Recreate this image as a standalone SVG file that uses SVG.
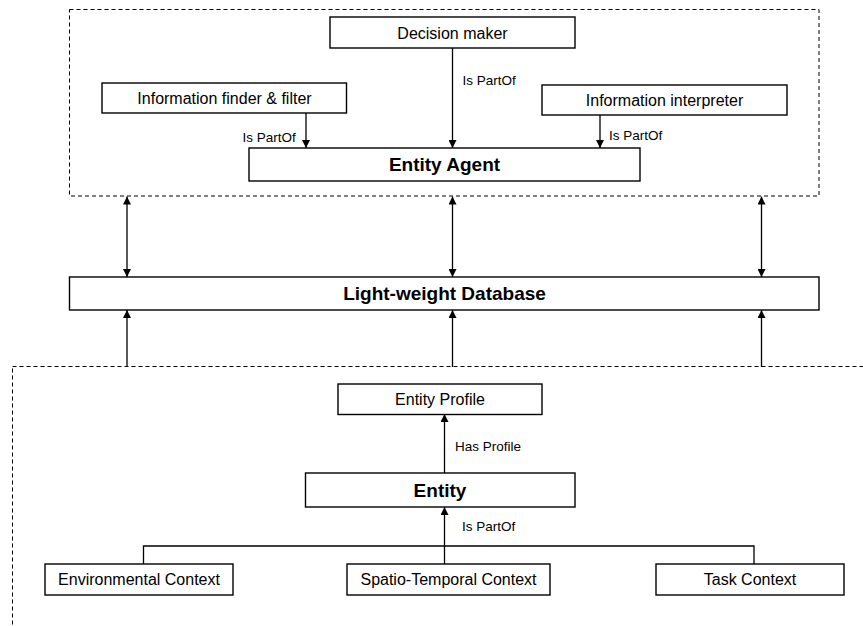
<svg xmlns="http://www.w3.org/2000/svg" width="863" height="626" viewBox="0 0 863 626">
<defs>
<style>
.box{fill:#fff;stroke:#000;stroke-width:1.4}
.dash{fill:none;stroke:#000;stroke-width:1;stroke-dasharray:4 3}
.ln{fill:none;stroke:#000;stroke-width:1.3}
.t{font-family:"Liberation Sans",Arial,sans-serif;font-size:16px;text-anchor:middle;fill:#000}
.b{font-family:"Liberation Sans",Arial,sans-serif;font-size:19px;font-weight:bold;text-anchor:middle;fill:#000}
.l{font-family:"Liberation Sans",Arial,sans-serif;font-size:13.5px;fill:#000}
</style>
<marker id="ah" viewBox="0 0 10 10" refX="10" refY="5" markerWidth="8" markerHeight="8" markerUnits="userSpaceOnUse" orient="auto-start-reverse">
<path d="M0,0 L10,5 L0,10 z" fill="#000"/>
</marker>
</defs>
<rect width="863" height="626" fill="#fff"/>
<g id="agent-container"><rect class="dash" x="69.5" y="9.5" width="749.5" height="186.5"/></g>
<g id="entity-container"><rect class="dash" x="12.5" y="366.5" width="900" height="300"/></g>

<g id="connectors">
<line class="ln" x1="452.5" y1="48" x2="452.5" y2="148" marker-end="url(#ah)"/>
<line class="ln" x1="306" y1="113" x2="306" y2="148" marker-end="url(#ah)"/>
<line class="ln" x1="600" y1="115" x2="600" y2="148" marker-end="url(#ah)"/>
<line class="ln" x1="127" y1="196.5" x2="127" y2="277" marker-start="url(#ah)" marker-end="url(#ah)"/>
<line class="ln" x1="452.5" y1="196.5" x2="452.5" y2="277" marker-start="url(#ah)" marker-end="url(#ah)"/>
<line class="ln" x1="761.5" y1="196.5" x2="761.5" y2="277" marker-start="url(#ah)" marker-end="url(#ah)"/>
<line class="ln" x1="127" y1="367" x2="127" y2="310" marker-end="url(#ah)"/>
<line class="ln" x1="452.5" y1="367" x2="452.5" y2="310" marker-end="url(#ah)"/>
<line class="ln" x1="761.5" y1="367" x2="761.5" y2="310" marker-end="url(#ah)"/>
<line class="ln" x1="444.5" y1="473" x2="444.5" y2="414" marker-end="url(#ah)"/>
<line class="ln" x1="444.5" y1="564" x2="444.5" y2="507" marker-end="url(#ah)"/>
<polyline class="ln" points="143.5,564 143.5,546 754,546 754,564"/>
<text class="l" x="462.5" y="85">Is PartOf</text>
<text class="l" x="242.5" y="141.5">Is PartOf</text>
<text class="l" x="609" y="140">Is PartOf</text>
<text class="l" x="455" y="451">Has Profile</text>
<text class="l" x="462" y="531">Is PartOf</text>
</g>

<g id="decision-maker"><rect class="box" x="330" y="17" width="245" height="31"/><text class="t" x="452.5" y="38.5">Decision maker</text></g>
<g id="info-finder"><rect class="box" x="102" y="83" width="244.5" height="30"/><text class="t" x="224.5" y="104">Information finder &amp; filter</text></g>
<g id="info-interpreter"><rect class="box" x="542" y="85" width="245" height="30"/><text class="t" x="664.5" y="106">Information interpreter</text></g>
<g id="entity-agent"><rect class="box" x="249" y="148" width="391" height="33"/><text class="b" x="444.5" y="171">Entity Agent</text></g>
<g id="database"><rect class="box" x="69.5" y="277" width="749.5" height="33"/><text class="b" x="444.5" y="300">Light-weight Database</text></g>
<g id="entity-profile"><rect class="box" x="338" y="384" width="204" height="30.5"/><text class="t" x="440" y="405">Entity Profile</text></g>
<g id="entity"><rect class="box" x="305.5" y="473" width="269.5" height="34"/><text class="b" x="440" y="497">Entity</text></g>
<g id="env-context"><rect class="box" x="45" y="564" width="188" height="31"/><text class="t" x="139" y="585">Environmental Context</text></g>
<g id="spatio-context"><rect class="box" x="347" y="564" width="203" height="31"/><text class="t" x="448.5" y="585">Spatio-Temporal Context</text></g>
<g id="task-context"><rect class="box" x="656" y="564" width="188" height="31"/><text class="t" x="750" y="585">Task Context</text></g>
</svg>
